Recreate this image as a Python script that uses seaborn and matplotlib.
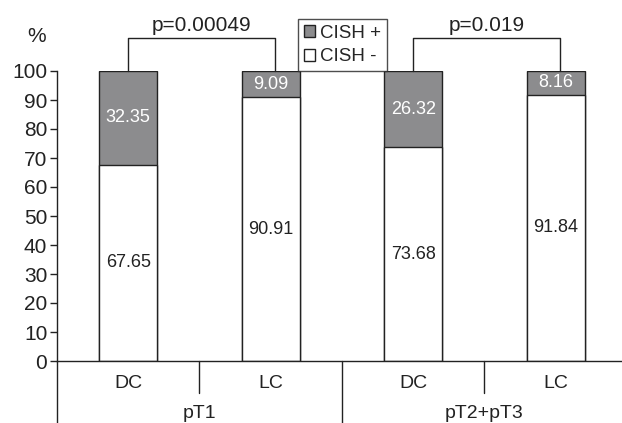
import pandas as pd
import matplotlib
matplotlib.use("Agg")
import matplotlib.pyplot as plt
from matplotlib.patches import Patch
import seaborn as sns

# data
groups = ["pT1", "pT1", "pT2+pT3", "pT2+pT3"]
types = ["DC", "LC", "DC", "LC"]
cish_pos = [32.35, 9.09, 26.32, 8.16]
cish_neg = [67.65, 90.91, 73.68, 91.84]
pvalues = ["p=0.00049", "p=0.019"]

df = pd.DataFrame({"group": groups, "type": types,
                   "pos": cish_pos, "neg": cish_neg})
df["key"] = df["group"] + " " + df["type"]
df["total"] = df["pos"] + df["neg"]

sns.set_style("white")
plt.rcParams["font.family"] = ["Liberation Sans", "DejaVu Sans"]

grey = "#8c8c8e"
edge = "#222222"

fig = plt.figure(figsize=(6.22, 4.23), dpi=100)
ax = fig.add_axes([57 / 622, 1 - 361 / 423, 1 - 57 / 622, 290 / 423])

sns.barplot(data=df, x="key", y="total", color=grey, width=0.41,
            edgecolor=edge, linewidth=1, saturation=1, ax=ax)
sns.barplot(data=df, x="key", y="neg", color="white", width=0.41,
            edgecolor=edge, linewidth=1, saturation=1, ax=ax)

# value labels
for i, row in df.iterrows():
    ax.text(i, row["neg"] / 2, f"{row['neg']:.2f}", ha="center", va="center",
            fontsize=13, color="#222222")
    ax.text(i, row["neg"] + row["pos"] / 2, f"{row['pos']:.2f}", ha="center",
            va="center", fontsize=13, color="white")

# p-value brackets
for j, p in enumerate(pvalues):
    x0 = 2 * j
    x1 = 2 * j + 1.03
    ax.plot([x0, x0, x1, x1], [100, 111.4, 111.4, 100], color=edge, lw=1,
            clip_on=False)
    ax.text((x0 + x1) / 2, 112.5, p, ha="center", va="bottom", fontsize=15,
            color="#222222")

ax.set_xlim(-0.5, 3.465)
ax.set_ylim(0, 100)
ax.set_yticks(range(0, 101, 10))
ax.tick_params(axis="y", length=5, width=1, color=edge, labelsize=15,
               pad=2, left=True)
ax.tick_params(axis="x", length=0, labelsize=14, pad=10)
ax.set_xticks(range(len(df)))
ax.set_xticklabels(df["type"])
ax.set_xlabel("")
ax.set_ylabel("")
for lab in ax.get_xticklabels() + ax.get_yticklabels():
    lab.set_color("#222222")

sns.despine(ax=ax)
for s in ["left", "bottom"]:
    ax.spines[s].set_color(edge)
    ax.spines[s].set_linewidth(1)

ax.text(-0.02, 1.12, "%", transform=ax.transAxes, ha="right", va="center",
        fontsize=15, color="#222222")

# group separators and labels below the axis
trans = ax.get_xaxis_transform()
for xs in [-0.5, 1.5]:
    ax.plot([xs, xs], [0, -0.22], color=edge, lw=1, transform=trans,
            clip_on=False)
for xs in [0.5, 2.5]:
    ax.plot([xs, xs], [0, -0.11], color=edge, lw=1, transform=trans,
            clip_on=False)
for j, g in enumerate(["pT1", "pT2+pT3"]):
    ax.text(2 * j + 0.5, -0.18, g, transform=trans, ha="center", va="center",
            fontsize=14, color="#222222")

handles = [Patch(facecolor=grey, edgecolor=edge, label="CISH +"),
           Patch(facecolor="white", edgecolor=edge, label="CISH -")]
leg = ax.legend(handles=handles, loc="upper left",
                bbox_to_anchor=(0.4265, 1.179), fontsize=13.5, frameon=True,
                fancybox=False, edgecolor=edge, handlelength=0.6,
                handleheight=0.6, handletextpad=0.3, borderpad=0.3,
                labelspacing=0.35, borderaxespad=0)
leg.get_frame().set_linewidth(1)

fig.savefig("out.png", dpi=100)
